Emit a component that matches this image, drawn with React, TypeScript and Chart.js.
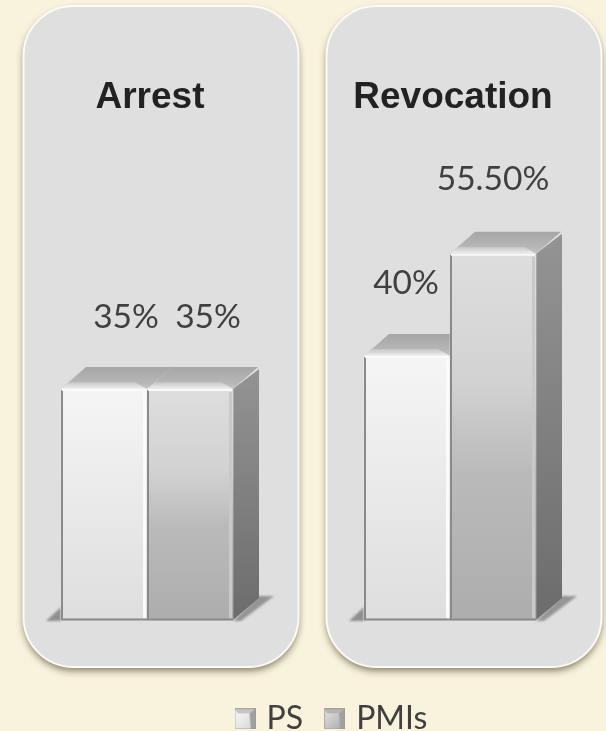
import React, { useEffect, useRef } from "react";
import { Chart, registerables } from "chart.js";

Chart.register(...registerables);

const categories = ["Arrest", "Revocation"];
const seriesNames = ["PS", "PMIs"];
const psValues = [35, 40];
const pmiValues = [35, 55.5];
const psLabels = ["35%", "40%"];
const pmiLabels = ["35%", "55.50%"];

const BG = "#f9f2dd";
const INK = "#404040";
const DEPTH_X = 26;
const DEPTH_Y = 22;
const CANVAS_SHIFT = 10;
const frontStops = [
  [[0, "#f5f5f5"], [1, "#dedede"]],
  [[0, "#dedede"], [0.35, "#d2d2d2"], [0.6, "#bababa"], [1, "#adadad"]],
];
const labelShift = [
  [[22, -72], [-1, -73]],
  [[18, -72], [0, -74]],
];

function swatch(kind: number) {
  const c = document.createElement("canvas");
  c.width = 21;
  c.height = 21;
  const g = c.getContext("2d")!;
  const grad = g.createLinearGradient(0, 0, 21, 21);
  if (kind === 0) {
    grad.addColorStop(0, "#fafafa");
    grad.addColorStop(1, "#d6d6d6");
  } else {
    grad.addColorStop(0, "#e6e6e6");
    grad.addColorStop(1, "#a8a8a8");
  }
  g.fillStyle = grad;
  g.fillRect(0, 0, 21, 21);
  g.fillStyle = kind === 0 ? "#c4c4c4" : "#b4b4b4";
  g.beginPath();
  g.moveTo(0, 0);
  g.lineTo(21, 0);
  g.lineTo(15, 5);
  g.lineTo(3, 5);
  g.fill();
  g.fillStyle = "#a0a0a0";
  g.beginPath();
  g.moveTo(21, 0);
  g.lineTo(21, 21);
  g.lineTo(16, 21);
  g.lineTo(15, 5);
  g.fill();
  g.strokeStyle = "rgba(150,150,150,.6)";
  g.strokeRect(0.5, 0.5, 20, 20);
  return c;
}

function roundPanel(ctx: CanvasRenderingContext2D, x0: number, x1: number) {
  ctx.save();
  ctx.beginPath();
  ctx.roundRect(x0, 6, x1 - x0, 661, 50);
  ctx.shadowColor = "rgba(80,70,30,.65)";
  ctx.shadowBlur = 7;
  ctx.shadowOffsetY = 4;
  ctx.fillStyle = "#dfdfdf";
  ctx.fill();
  ctx.shadowColor = "transparent";
  ctx.lineWidth = 2;
  ctx.strokeStyle = "#fbfbfb";
  ctx.stroke();
  ctx.restore();
}

function poly(ctx: CanvasRenderingContext2D, pts: number[][], fill: any) {
  ctx.beginPath();
  pts.forEach(([x, y], i) => (i ? ctx.lineTo(x, y) : ctx.moveTo(x, y)));
  ctx.closePath();
  ctx.fillStyle = fill;
  ctx.fill();
}

const scene = {
  id: "scene",
  afterLayout(chart: any) {
    chart.legend.left += 35;
    chart.legend.right += 35;
    chart.legend.top += 4;
    chart.legend.bottom += 4;
  },
  beforeDraw(chart: any) {
    const { ctx, width, height } = chart;
    ctx.save();
    ctx.fillStyle = BG;
    ctx.fillRect(0, 0, width, height);
    ctx.restore();
    const x = chart.scales.x;
    [0, 1].forEach((i) => {
      const c = x.getPixelForTick(i);
      const half = 137.5;
      const centre = c + 14;
      roundPanel(ctx, centre - half, centre + half);
    });
  },
  beforeDatasetsDraw(chart: any) {
    const { ctx } = chart;
    const a = chart.getDatasetMeta(0).data;
    const b = chart.getDatasetMeta(1).data;
    ctx.save();
    a.forEach((p: any, i: number) => {
      const q = b[i];
      const base = p.base;
      const L = p.x - p.width / 2;
      const R = q.x + q.width / 2;
      ctx.save();
      ctx.filter = "blur(1.2px)";
      poly(ctx, [[L, base + 1], [L - 15, base + 1], [L, base - 13]], "#8f8f8f");
      poly(
        ctx,
        [[R, base + 1], [R + 8, base + 1], [R + 41, base - 24], [R + 26, base - 24]],
        "#959595"
      );
      ctx.restore();
      [p, q].forEach((el: any, k: number) => {
        const l = el.x - el.width / 2;
        const r = el.x + el.width / 2;
        const top = el.y;
        ctx.save();
        ctx.filter = "blur(0.6px)";
        const topGrad = ctx.createLinearGradient(0, top - DEPTH_Y, 0, top);
        topGrad.addColorStop(0, "#a6a6a6");
        topGrad.addColorStop(0.7, "#b6b6b6");
        topGrad.addColorStop(1, "#c6c6c6");
        poly(
          ctx,
          [[l, top], [l + DEPTH_X - 1, top - DEPTH_Y], [r + DEPTH_X - 1, top - DEPTH_Y], [r, top]],
          topGrad
        );
        const lip = ctx.createLinearGradient(0, top - 7, 0, top);
        lip.addColorStop(0, "#c4c4c4");
        lip.addColorStop(1, "#f0f0f0");
        poly(ctx, [[l, top], [l + 8, top - 7], [r - 12, top - 7], [r, top]], lip);
        ctx.restore();
        if (k === 1) {
          const sideGrad = ctx.createLinearGradient(0, top - DEPTH_Y, 0, el.base);
          sideGrad.addColorStop(0, "#949494");
          sideGrad.addColorStop(1, "#6c6c6c");
          poly(
            ctx,
            [[r, top], [r + DEPTH_X, top - DEPTH_Y + 2], [r + DEPTH_X, el.base - DEPTH_Y], [r, el.base]],
            sideGrad
          );
        }
      });
    });
    ctx.restore();
  },
  afterDatasetsDraw(chart: any) {
    const { ctx } = chart;
    const texts = [psLabels, pmiLabels];
    [0, 1].forEach((d) => {
      chart.getDatasetMeta(d).data.forEach((el: any) => {
        const l = el.x - el.width / 2;
        const r = el.x + el.width / 2;
        ctx.save();
        ctx.filter = "blur(0.6px)";
        ctx.fillStyle = "#8a8a8a";
        ctx.fillRect(l, el.y + 1, 2, el.base - el.y - 1);
        ctx.fillRect(l, el.base - 1.5, el.width, 2);
        ctx.fillStyle = d === 0 ? "#fbfbfb" : "#c9c9c9";
        ctx.fillRect(r - 4, el.y + 3, 3, el.base - el.y - 5);
        ctx.fillStyle = "#fafafa";
        ctx.fillRect(l + 1, el.y, el.width - 2, 2);
        ctx.restore();
      });
    });
    ctx.save();
    [0, 1].forEach((d) => {
      chart.getDatasetMeta(d).data.forEach((el: any, i: number) => {
        const [dx, dy] = labelShift[d][i];
        ctx.font = "33.5px Lato";
        ctx.textAlign = "center";
        ctx.textBaseline = "middle";
        ctx.fillStyle = INK;
        ctx.fillText(texts[d][i], el.x + dx, el.y + dy);
      });
    });
    ctx.restore();
  },
};

export default function App() {
  const ref = useRef<HTMLCanvasElement>(null);
  useEffect(() => {
    const frontFill = (d: number) => (c: any) => {
      const { chart, raw } = c;
      const y = chart.scales?.y;
      if (!y || raw === undefined) return "#ddd";
      const g = chart.ctx.createLinearGradient(0, y.getPixelForValue(raw), 0, y.getPixelForValue(0));
      frontStops[d].forEach(([p, col]) => g.addColorStop(p as number, col as string));
      return g;
    };
    const chart = new Chart(ref.current!, {
      type: "bar",
      plugins: [scene],
      data: {
        labels: categories,
        datasets: [
          { label: seriesNames[0], data: psValues, backgroundColor: frontFill(0), pointStyle: swatch(0) as any },
          { label: seriesNames[1], data: pmiValues, backgroundColor: frontFill(1), pointStyle: swatch(1) as any },
        ],
      },
      options: {
        responsive: false,
        animation: false,
        events: [],
        datasets: { bar: { barThickness: 86 } },
        layout: { padding: { left: 5.5, right: 4.5, top: 58, bottom: -9.8 } },
        scales: {
          x: {
            position: "top",
            grid: { display: false },
            border: { display: false },
            afterFit: (s: any) => {
              s.height = 100;
            },
            ticks: {
              color: "#222222",
              labelOffset: 3,
              padding: 30,
              maxRotation: 0,
              font: { family: "'Liberation Sans'", size: 37, weight: "bold" },
            },
          },
          y: { display: false, min: -8, max: 70 },
        },
        plugins: {
          tooltip: { enabled: false },
          title: { display: false },
          legend: {
            position: "bottom",
            labels: {
              usePointStyle: true,
              boxWidth: 11,
              boxHeight: 21,
              padding: 26,
              color: INK,
              font: { family: "Lato", size: 32 },
              generateLabels: (ch: any) =>
                ch.data.datasets.map((ds: any, i: number) => ({
                  text: ds.label,
                  datasetIndex: i,
                  pointStyle: ds.pointStyle,
                  fontColor: INK,
                })),
            },
          },
        },
      } as any,
    });
    return () => chart.destroy();
  }, []);
  return (
    <div style={{ position: "fixed", left: 0, top: 0, width: 606, height: 731, overflow: "hidden", background: BG }}>
      <canvas
        ref={ref}
        width={606 + CANVAS_SHIFT}
        height={731}
        style={{ display: "block", position: "absolute", left: -CANVAS_SHIFT, top: 0 }}
      />
    </div>
  );
}
